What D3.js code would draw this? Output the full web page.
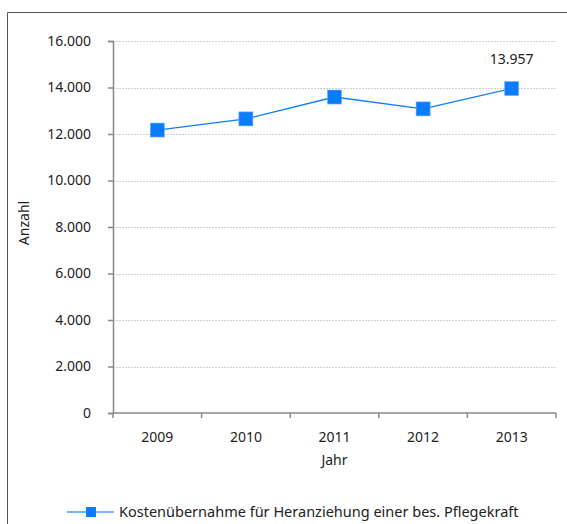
<!DOCTYPE html>
<html>
<head>
<meta charset="utf-8">
<script src="https://cdn.jsdelivr.net/npm/d3@7"></script>
<style>
  body { margin: 0; background: #fff; }
  svg { display: block; font-family: "Noto Sans", "Open Sans", sans-serif; }
</style>
</head>
<body>
<svg id="chart" width="567" height="524"></svg>
<script>
const years = ['2009', '2010', '2011', '2012', '2013'];
const values = [12170, 12650, 13590, 13080, 13957];
const yTicks = [0, 2000, 4000, 6000, 8000, 10000, 12000, 14000, 16000];
const seriesName = 'Kostenübernahme für Heranziehung einer bes. Pflegekraft';
const blue = '#0a7cff';

const margin = {left: 113, right: 11, top: 41, bottom: 111};
const width = 567 - margin.left - margin.right;
const height = 524 - margin.top - margin.bottom;

const svg = d3.select('#chart');

// outer frame (only top and left edges visible)
svg.append('path')
  .attr('d', 'M7.5,524 V12.5 H567')
  .attr('fill', 'none')
  .attr('stroke', '#555')
  .attr('stroke-width', 1);

const g = svg.append('g')
  .attr('transform', `translate(${margin.left}, ${margin.top})`);

const xScale = d3.scaleBand()
  .domain(years)
  .range([0, width]);

const yScale = d3.scaleLinear()
  .domain([0, 16000])
  .range([height, 0]);

const fmt = d3.formatLocale({decimal: ',', thousands: '.', grouping: [3], currency: ['', '€']}).format(',');

// gridlines
g.append('g')
  .selectAll('line')
  .data(yTicks.filter(d => d > 0))
  .enter()
  .append('line')
  .attr('x1', 0)
  .attr('x2', width)
  .attr('y1', d => Math.round(yScale(d)) + 0.5)
  .attr('y2', d => Math.round(yScale(d)) + 0.5)
  .attr('stroke', '#d0d0d0')
  .attr('stroke-dasharray', '2,1');

// y axis
const yAxis = g.append('g')
  .call(d3.axisLeft(yScale).tickValues(yTicks).tickFormat(fmt).tickSize(5).tickPadding(17));
yAxis.select('.domain').attr('stroke', '#888').attr('stroke-width', 1.5);
yAxis.selectAll('.tick line').attr('stroke', '#888').attr('stroke-width', 1.5);
yAxis.selectAll('text').attr('font-size', 14).attr('fill', '#222')
  .attr('font-family', '"Noto Sans", sans-serif');

// x axis with ticks on band edges
const xAxis = g.append('g')
  .attr('transform', `translate(0, ${height})`);
xAxis.append('line')
  .attr('x1', 0).attr('x2', width)
  .attr('stroke', '#888').attr('stroke-width', 1.5);
xAxis.selectAll('.edge')
  .data(years.concat(['end']))
  .enter()
  .append('line')
  .attr('x1', (d, i) => i * xScale.bandwidth())
  .attr('x2', (d, i) => i * xScale.bandwidth())
  .attr('y1', 0).attr('y2', 5)
  .attr('stroke', '#888').attr('stroke-width', 1.5);
xAxis.selectAll('text')
  .data(years)
  .enter()
  .append('text')
  .attr('x', d => xScale(d) + xScale.bandwidth() / 2)
  .attr('y', 29)
  .attr('text-anchor', 'middle')
  .attr('font-size', 14)
  .attr('fill', '#222')
  .text(d => d);

// axis titles
g.append('text')
  .attr('x', width / 2)
  .attr('y', height + 52)
  .attr('text-anchor', 'middle')
  .attr('font-size', 14)
  .attr('fill', '#222')
  .text('Jahr');

svg.append('text')
  .attr('transform', `translate(29, 223) rotate(-90)`)
  .attr('text-anchor', 'middle')
  .attr('font-size', 14)
  .attr('fill', '#222')
  .text('Anzahl');

// line + markers
const cx = d => xScale(d) + xScale.bandwidth() / 2;
const line = d3.line()
  .x((d, i) => cx(years[i]))
  .y(d => yScale(d));

g.append('path')
  .datum(values)
  .attr('d', line)
  .attr('fill', 'none')
  .attr('stroke', blue)
  .attr('stroke-width', 1.3);

g.selectAll('.marker')
  .data(values)
  .enter()
  .append('rect')
  .attr('class', 'marker')
  .attr('x', (d, i) => cx(years[i]) - 7)
  .attr('y', d => yScale(d) - 7)
  .attr('width', 14)
  .attr('height', 14)
  .attr('fill', blue)
  .attr('stroke', '#6ab0ff')
  .attr('stroke-width', 0.6);

// label on last point
const last = values.length - 1;
g.append('text')
  .attr('x', cx(years[last]))
  .attr('y', yScale(values[last]) - 24)
  .attr('text-anchor', 'middle')
  .attr('font-size', 14)
  .attr('fill', '#222')
  .text(fmt(values[last]));

// legend
const legend = svg.append('g').attr('transform', 'translate(67, 512)');
legend.append('line')
  .attr('x1', 0).attr('x2', 47)
  .attr('stroke', '#4a9dff').attr('stroke-width', 1.3);
legend.append('rect')
  .attr('x', 19).attr('y', -5)
  .attr('width', 10).attr('height', 10)
  .attr('fill', blue);
legend.append('text')
  .attr('x', 52)
  .attr('y', 5)
  .attr('font-size', 14.5)
  .attr('fill', '#222')
  .text(seriesName);
</script>
</body>
</html>
